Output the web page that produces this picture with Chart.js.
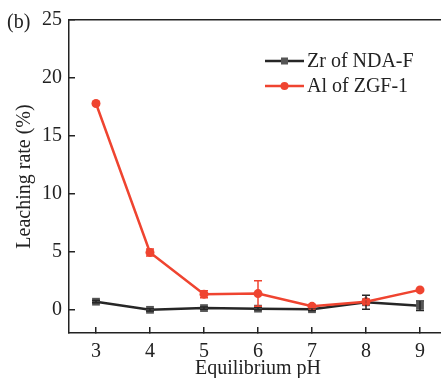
<!DOCTYPE html>
<html lang="en">
<head>
  <meta charset="UTF-8">
  <title>Leaching rate</title>
  <style>
    html, body { margin: 0; padding: 0; background: #fff; overflow: hidden; }
    #wrap { width: 441px; height: 378px; overflow: hidden; }
  </style>
</head>
<body>
  <div id="wrap"><canvas id="chart" width="460" height="378"></canvas></div>
  <script src="https://cdn.jsdelivr.net/npm/chart.js"></script>
  <script>
    // pH values on the x axis
    const phValues = [3, 4, 5, 6, 7, 8, 9];
    const zrLeach = [0.7, 0.0, 0.15, 0.1, 0.05, 0.65, 0.35];
    const zrErr = [0.1, 0.1, 0.1, 0.1, 0.1, 0.6, 0.4];
    const alLeach = [17.8, 4.95, 1.35, 1.4, 0.3, 0.7, 1.72];
    const alErr = [0.1, 0.3, 0.3, 1.1, 0.1, 0.2, 0.1];
    const yTicks = [0, 5, 10, 15, 20, 25];
    const xTicks = [3, 4, 5, 6, 7, 8, 9];

    const RED = '#ef4430';
    const DARK = '#262626';
    const FONT = 'Liberation Serif';

    const pts = (xs, ys) => xs.map((x, i) => ({ x: x, y: ys[i] }));

    const noPad = (s) => {
      s.paddingTop = 0; s.paddingBottom = 0;
      s.paddingLeft = 0; s.paddingRight = 0;
    };

    const errorBars = {
      id: 'errorBars',
      afterDatasetsDraw(chart) {
        const { ctx, scales: { x, y } } = chart;
        const sets = [[zrLeach, zrErr, DARK], [alLeach, alErr, RED]];
        ctx.save();
        ctx.lineWidth = 1.5;
        sets.forEach(([vals, errs, col]) => {
          ctx.strokeStyle = col;
          vals.forEach((v, i) => {
            const px = x.getPixelForValue(phValues[i]);
            const top = y.getPixelForValue(v + errs[i]);
            const bot = y.getPixelForValue(v - errs[i]);
            ctx.beginPath();
            ctx.moveTo(px, top); ctx.lineTo(px, bot);
            ctx.moveTo(px - 4, top); ctx.lineTo(px + 4, top);
            ctx.moveTo(px - 4, bot); ctx.lineTo(px + 4, bot);
            ctx.stroke();
          });
        });
        ctx.restore();
      }
    };

    const extras = {
      id: 'extras',
      afterDraw(chart) {
        const ctx = chart.ctx;
        ctx.save();
        ctx.fillStyle = '#222';
        ctx.font = '20px "' + FONT + '"';
        ctx.textBaseline = 'middle';
        ctx.textAlign = 'left';
        ctx.fillText('(b)', 7, 23);
        // legend
        const rows = [
          ['Zr of NDA-F', DARK, 'rect', '#555'],
          ['Al of ZGF-1', RED, 'circle', RED]
        ];
        rows.forEach(([label, col, shape, fill], i) => {
          const yy = 61 + i * 25;
          ctx.strokeStyle = col;
          ctx.lineWidth = 2.5;
          ctx.beginPath();
          ctx.moveTo(265, yy); ctx.lineTo(304, yy);
          ctx.stroke();
          ctx.fillStyle = fill;
          if (shape === 'rect') {
            ctx.fillRect(281, yy - 3.5, 7, 7);
          } else {
            ctx.beginPath();
            ctx.arc(284.5, yy, 4, 0, Math.PI * 2);
            ctx.fill();
          }
          ctx.fillStyle = '#222';
          ctx.fillText(label, 307, yy + 1);
        });
        ctx.restore();
      }
    };

    const ctx = document.getElementById('chart').getContext('2d');
    new Chart(ctx, {
      type: 'line',
      data: {
        datasets: [
          {
            label: 'Zr of NDA-F',
            data: pts(phValues, zrLeach),
            borderColor: DARK,
            backgroundColor: '#555',
            borderWidth: 2.5,
            pointStyle: 'rect',
            pointRadius: 5.5,
            pointBorderWidth: 0,
            order: 2
          },
          {
            label: 'Al of ZGF-1',
            data: pts(phValues, alLeach),
            borderColor: RED,
            backgroundColor: RED,
            borderWidth: 2.5,
            pointStyle: 'circle',
            pointRadius: 4.5,
            pointBorderWidth: 0,
            order: 1
          }
        ]
      },
      options: {
        responsive: false,
        animation: false,
        layout: { padding: { left: 0, right: 13, top: 0, bottom: 0 } },
        plugins: {
          legend: { display: false },
          tooltip: { enabled: false }
        },
        scales: {
          x: {
            type: 'linear',
            position: 'bottom',
            min: 2.5,
            max: 9.5,
            afterBuildTicks: (s) => { s.ticks = xTicks.map(v => ({ value: v })); },
            afterFit: (s) => { s.height = 45; noPad(s); },
            grid: { drawOnChartArea: false, color: '#222', tickLength: -6, lineWidth: 1.5 },
            border: { color: '#222', width: 1.5 },
            ticks: { color: '#222', font: { family: FONT, size: 20 }, padding: 13, maxRotation: 0 },
            title: { display: true, text: 'Equilibrium pH', color: '#222', font: { family: FONT, size: 20 }, padding: { top: 0, bottom: -3 } }
          },
          x2: {
            type: 'linear',
            position: 'top',
            min: 2.5,
            max: 9.5,
            afterFit: (s) => { s.height = 20; noPad(s); },
            grid: { display: false },
            border: { color: '#222', width: 1.5 },
            ticks: { display: false }
          },
          y: {
            min: -2,
            max: 25,
            afterBuildTicks: (s) => { s.ticks = yTicks.map(v => ({ value: v })); },
            afterFit: (s) => { s.width = 69; noPad(s); },
            grid: { drawOnChartArea: false, color: '#222', tickLength: -6, lineWidth: 1.5 },
            border: { color: '#222', width: 1.5 },
            ticks: { color: '#222', font: { family: FONT, size: 20 }, padding: 13 },
            title: { display: true, text: 'Leaching rate (%)', color: '#222', font: { family: FONT, size: 20 }, padding: { top: 13, bottom: 0 } }
          }
        }
      },
      plugins: [errorBars, extras]
    });
  </script>
</body>
</html>
